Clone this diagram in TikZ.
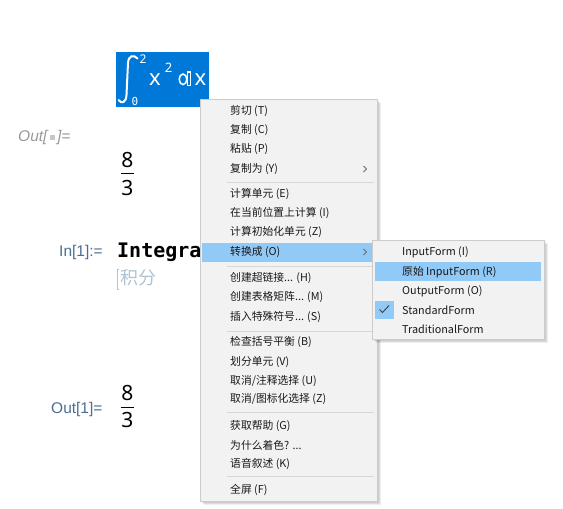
\documentclass[tikz,border=0pt]{standalone}
\usepackage{fontspec}
\setmainfont{Liberation Sans}
\newfontfamily\cjk{Noto Sans CJK SC}
\newfontfamily\uisans{Noto Sans}
\newfontfamily\monob{DejaVu Sans Mono}
\definecolor{hlblue}{HTML}{0078D7}
\definecolor{menubg}{HTML}{F2F2F2}
\definecolor{menuborder}{HTML}{CCCCCC}
\definecolor{menuhl}{HTML}{91C9F7}
\definecolor{labelblue}{HTML}{4A6E94}
\definecolor{sepgray}{HTML}{D7D7D7}
\definecolor{hintgray}{HTML}{AFC3D3}
\definecolor{arrowgray}{HTML}{6E6E6E}
\begin{document}
\begin{tikzpicture}[x=1pt,y=-1pt,
  menuitem/.style={anchor=west,inner sep=0pt,font=\cjk\fontsize{10.8}{12}\selectfont,text=black!90},
  lbl/.style={anchor=west,inner sep=0pt,font=\fontsize{15.5}{17}\selectfont,text=labelblue},
  digit/.style={inner sep=0pt,font=\uisans\fontsize{21}{22}\selectfont},
  sep/.style={draw=sepgray,line width=0.8pt},
  chev/.style={draw=arrowgray,line width=0.8pt},
  shadowbox/.style={fill=black,fill opacity=0.07,draw=none}]
\useasboundingbox (0,0) rectangle (563,509);
\fill[white] (0,0) rectangle (563,509);

% selected integral
\fill[hlblue] (116,52) rectangle (209,107);
\draw[white,line width=2pt,line cap=round] (137.5,58.5) .. controls (134,54.5) and (128.5,55) .. (128,63) -- (126.5,95) .. controls (126,103) and (121.5,104) .. (118.5,100);
\node[inner sep=0pt,text=white,font=\uisans\fontsize{12}{13}\selectfont] (ub) at (143,59.5) {2};
\node[inner sep=0pt,text=white,font=\monob\fontsize{11}{12}\selectfont] (lb) at (135,101) {0};
\node[inner sep=0pt,anchor=base west,text=white,font=\uisans\fontsize{22}{24}\selectfont] (xv) at (149,85.5) {x};
\node[inner sep=0pt,text=white,font=\uisans\fontsize{13}{14}\selectfont] (xp) at (168.5,68) {2};
% double-struck d
\draw[white,line width=1.5pt] (183,79.3) ellipse[x radius=3.8,y radius=5.3];
\draw[white,line width=1.3pt] (187.3,72) -- (187.3,85.2);
\draw[white,line width=1.3pt] (186.6,72) -- (190.4,72) -- (190.4,85.2) -- (186.6,85.2);
\node[inner sep=0pt,anchor=base west,text=white,font=\uisans\fontsize{22}{24}\selectfont] (xd) at (194.5,85.5) {x};

% first output
\node[anchor=west,inner sep=0pt,text=black!40,font=\itshape\fontsize{15.5}{17}\selectfont] (out0) at (18,137)
  {Out[\,{\color{black!22}\rule[1pt]{4.5pt}{5pt}}\,]=};
\node[digit] (n1) at (127.5,160.5) {8};
\node[digit] (d1) at (127.5,188) {3};
\draw[line width=0.9pt] (121,173.5) -- (134,173.5);

% input cell
\node[lbl] (in1) at (59,252) {In[1]:=};
\node[anchor=base west,inner sep=0pt,font=\monob\bfseries\fontsize{20}{22}\selectfont] (integ) at (117,257) {Integra};
\draw[black!25,line width=0.7pt] (119,269) -- (117,269) -- (117,289) -- (119,289);
\node[anchor=west,inner sep=0pt,text=hintgray,font=\cjk\fontsize{18}{20}\selectfont] (hint) at (120,278) {积分};

% second output
\node[lbl] (out1) at (51,409) {Out[1]=};
\node[digit] (n2) at (127.5,392.5) {8};
\node[digit] (d2) at (127.5,420) {3};
\draw[line width=0.9pt] (121,407) -- (134,407);

% main menu
\foreach \i in {1,...,4} \fill[shadowbox] (200+\i,99+\i) rectangle (377+\i,501+\i);
\fill[menubg] (200,99) rectangle (377,501);
\draw[menuborder,line width=0.8pt] (200,99) rectangle (377,501);
\fill[menuhl] (202,243) rectangle (375,262);
\node[menuitem] (m1) at (230,111) {剪切 (T)};
\node[menuitem] (m2) at (230,130) {复制 (C)};
\node[menuitem] (m3) at (230,149) {粘贴 (P)};
\node[menuitem] (m4) at (230,169) {复制为 (Y)};
\draw[sep] (227,182) -- (374,182);
\node[menuitem] (m5) at (230,194) {计算单元 (E)};
\node[menuitem] (m6) at (230,213) {在当前位置上计算 (I)};
\node[menuitem] (m7) at (230,232) {计算初始化单元 (Z)};
\node[menuitem] (m8) at (230,252) {转换成 (O)};
\draw[sep] (227,266) -- (374,266);
\node[menuitem] (m9) at (230,278) {创建超链接... (H)};
\node[menuitem] (m10) at (230,297) {创建表格矩阵... (M)};
\node[menuitem] (m11) at (230,317) {插入特殊符号... (S)};
\draw[sep] (227,331) -- (374,331);
\node[menuitem] (m12) at (230,342) {检查括号平衡 (B)};
\node[menuitem] (m13) at (230,362) {划分单元 (V)};
\node[menuitem] (m14) at (230,381) {取消/注释选择 (U)};
\node[menuitem] (m15) at (230,399) {取消/图标化选择 (Z)};
\draw[sep] (227,412) -- (374,412);
\node[menuitem] (m16) at (230,426) {获取帮助 (G)};
\node[menuitem] (m17) at (230,445) {为什么着色? ...};
\node[menuitem] (m18) at (230,464) {语音叙述 (K)};
\draw[sep] (227,476) -- (374,476);
\node[menuitem] (m19) at (230,490) {全屏 (F)};
\draw[chev] (363.5,166) -- (366.5,169) -- (363.5,172);
\draw[chev] (363.5,249) -- (366.5,252) -- (363.5,255);

% submenu
\foreach \i in {1,...,4} \fill[shadowbox] (372+\i,240+\i) rectangle (544+\i,339+\i);
\fill[menubg] (372,240) rectangle (544,339);
\draw[menuborder,line width=0.8pt] (372,240) rectangle (544,339);
\fill[menuhl] (375,262) rectangle (541,281);
\fill[menuhl] (375,301) rectangle (394,319);
\draw[black!75,line width=0.9pt] (379.5,309.5) -- (382.5,312.5) -- (389,305.5);
\node[menuitem] (s1) at (402,252) {InputForm (I)};
\node[menuitem] (s2) at (402,272) {原始 InputForm (R)};
\node[menuitem] (s3) at (402,291) {OutputForm (O)};
\node[menuitem] (s4) at (402,310) {StandardForm};
\node[menuitem] (s5) at (402,329) {TraditionalForm};
\end{tikzpicture}
\end{document}
